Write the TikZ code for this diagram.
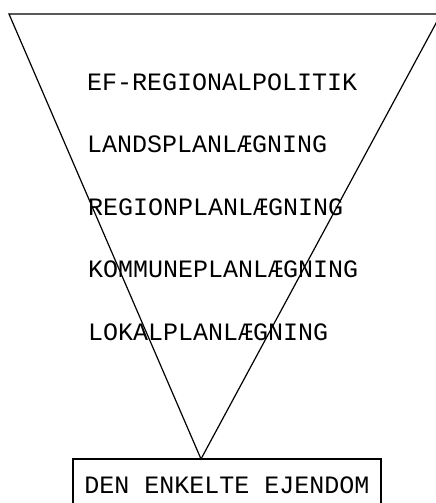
\documentclass[tikz,border=0pt]{standalone}
\usepackage{fontspec}
\setmonofont{Liberation Mono}
\begin{document}
\begin{tikzpicture}[x=1pt,y=-1pt,
  level/.style={anchor=west,inner sep=0pt,font=\ttfamily\fontsize{25}{25}\selectfont},
  base/.style={draw,line width=1.2pt,minimum width=308pt,minimum height=52pt,inner sep=0pt,
    font=\ttfamily\fontsize{25}{25}\selectfont},
  edge/.style={line width=1.2pt}]
\useasboundingbox (0,0) rectangle (436,503);
\coordinate (tl) at (9,14);
\coordinate (tr) at (441,14);
\coordinate (apex) at (201,459);
\draw[edge,line join=miter] (tl) -- (tr) -- (apex) -- cycle;
\node[level] (l1) at (87,82) {EF-REGIONALPOLITIK};
\node[level] (l2) at (87,144) {LANDSPLANLÆGNING};
\node[level] (l3) at (88,207) {REGIONPLANLÆGNING};
\node[level] (l4) at (88,269) {KOMMUNEPLANLÆGNING};
\node[level] (l5) at (88,332) {LOKALPLANLÆGNING};
\node[base] (prop) at (227,485) {DEN ENKELTE EJENDOM};
\end{tikzpicture}
\end{document}
